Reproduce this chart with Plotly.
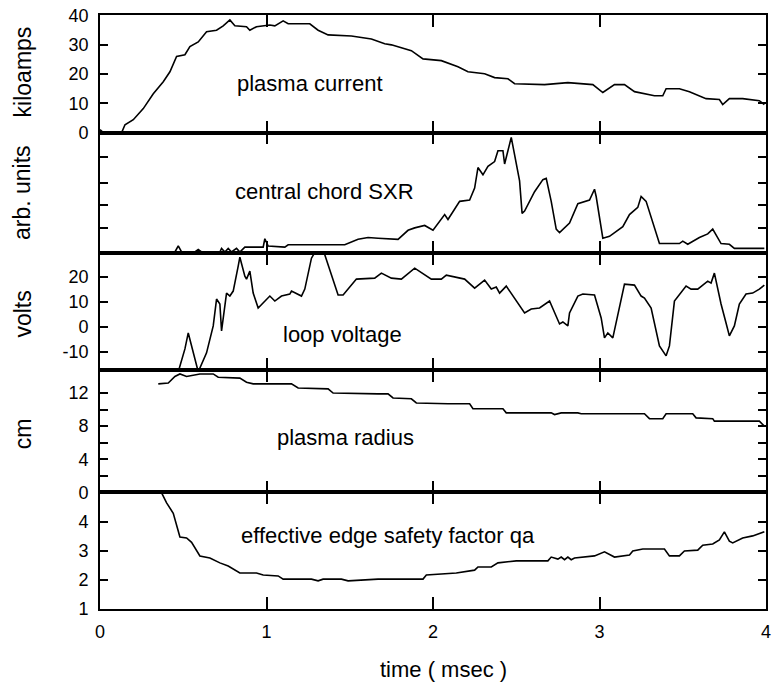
import plotly.graph_objects as go

# ---------------- data ----------------
t_cur = [0.0, 0.02, 0.13, 0.15, 0.20, 0.26, 0.32, 0.38, 0.42, 0.46, 0.51, 0.54, 0.59, 0.64, 0.70,
         0.74, 0.78, 0.81, 0.88, 0.90, 0.94, 1.02, 1.05, 1.10, 1.13, 1.26, 1.31, 1.37, 1.51, 1.63,
         1.71, 1.75, 1.87, 1.94, 2.05, 2.15, 2.21, 2.31, 2.37, 2.45, 2.49, 2.67, 2.81, 2.96, 3.02,
         3.09, 3.15, 3.21, 3.33, 3.38, 3.40, 3.48, 3.54, 3.64, 3.72, 3.74, 3.78, 3.86, 3.96, 3.99]
current = [1.0, 0, 0, 2.7, 4.4, 8.2, 13.3, 17.4, 20.8, 26, 26.6, 29.4, 31, 34.5, 35,
           36.5, 38.5, 36.5, 36.2, 35, 36.2, 36.8, 36.5, 38.2, 37.2, 37.2, 35, 33.4, 33, 32,
           30.4, 30, 28, 25.2, 24.6, 22.5, 20.8, 20.1, 18.8, 18.4, 16.7, 16.4, 17.1, 16.4, 13.7,
           16.4, 16.4, 14, 12.6, 12.6, 15, 15, 14, 11.6, 11.3, 9.6, 11.6, 11.6, 10.9, 9.6]

t_sxr = [0.45, 0.47, 0.49, 0.57, 0.59, 0.61, 0.72, 0.73, 0.75, 0.77, 0.79, 0.82, 0.84, 0.87, 0.98,
         0.99, 1.01, 1.11, 1.13, 1.47, 1.55, 1.61, 1.67, 1.79, 1.85, 1.89, 1.95, 2.00, 2.07, 2.09,
         2.16, 2.22, 2.25, 2.27, 2.30, 2.33, 2.37, 2.39, 2.42, 2.43, 2.47, 2.52, 2.535, 2.55, 2.61,
         2.66, 2.68, 2.71, 2.74, 2.76, 2.82, 2.87, 2.94, 2.97, 2.98, 3.02, 3.06, 3.14, 3.18, 3.23,
         3.25, 3.28, 3.36, 3.48, 3.50, 3.53, 3.60, 3.65, 3.68, 3.73, 3.78, 3.81, 3.99]
sxr = [0.1, 0.6, 0.1, 0.1, 0.3, 0.1, 0.1, 0.4, 0.1, 0.4, 0.1, 0.4, 0.1, 0.5, 0.5,
       1.2, 0.6, 0.5, 0.7, 0.7, 1.15, 1.3, 1.24, 1.15, 1.9, 2.1, 2.3, 1.9, 3.2, 2.8,
       4.3, 4.4, 5.4, 7.1, 6.5, 7.2, 7.6, 8.5, 8.5, 7.4, 9.6, 6.0, 3.3, 3.5, 5.1,
       6.1, 6.2, 4.3, 2.0, 1.7, 2.5, 4.1, 4.4, 5.3, 4.7, 1.24, 1.4, 2.2, 3.2, 3.8,
       4.7, 4.3, 0.8, 0.8, 1.0, 0.74, 1.3, 1.6, 2.0, 0.8, 0.74, 0.4, 0.4]

t_volt = [0.47, 0.51, 0.53, 0.55, 0.59, 0.64, 0.68, 0.70, 0.72, 0.73, 0.76, 0.78, 0.80, 0.83, 0.84,
          0.87, 0.88, 0.90, 0.92, 0.95, 0.98, 1.02, 1.05, 1.09, 1.14, 1.15, 1.21, 1.23, 1.27, 1.30,
          1.34, 1.39, 1.43, 1.46, 1.54, 1.65, 1.69, 1.75, 1.81, 1.89, 1.99, 2.05, 2.08, 2.19, 2.25,
          2.31, 2.35, 2.38, 2.40, 2.44, 2.55, 2.59, 2.64, 2.70, 2.76, 2.78, 2.81, 2.82, 2.87, 2.90,
          2.97, 3.01, 3.03, 3.05, 3.08, 3.15, 3.21, 3.25, 3.27, 3.31, 3.36, 3.40, 3.42, 3.45, 3.52,
          3.55, 3.59, 3.65, 3.67, 3.69, 3.73, 3.76, 3.78, 3.81, 3.84, 3.88, 3.92, 3.96, 3.99]
volts = [-18, -8.8, -2.4, -7.6, -18, -10.4, 0.4, 11.2, 9.2, -1.6, 13.6, 12.4, 14.4, 24.4, 28,
         20.4, 19.2, 22.4, 13.6, 7.6, 9.6, 12.4, 10.4, 12.4, 13.2, 14.4, 12.4, 15.2, 27.6, 31,
         31, 20.4, 12.8, 12.8, 19.2, 19.6, 21.6, 19.6, 19.2, 23.6, 19.2, 19.2, 20.8, 19.2, 15.6,
         18.8, 15.2, 16, 13.6, 16.4, 5.6, 7.2, 7.6, 10.4, 1.2, 2.0, 0.4, 5.6, 12.4, 13.2,
         12.8, 3.6, -4.4, -2.4, -4.4, 17.2, 16.8, 12.4, 11.6, 7.6, -7.6, -11.6, -7.6, 10.4, 16.4,
         15.2, 15.2, 18.4, 17.6, 21.6, 9.2, 1.6, -3.6, 0.4, 9.2, 13.2, 13.6, 15.2, 16.8]

t_rad = [0.35, 0.41, 0.45, 0.48, 0.52, 0.60, 0.68, 0.71, 0.84, 0.88, 0.92, 1.15, 1.19, 1.37, 1.40,
         1.55, 1.67, 1.73, 1.76, 1.87, 1.90, 2.09, 2.22, 2.24, 2.42, 2.44, 2.71, 2.73, 2.77, 2.87,
         2.89, 3.27, 3.30, 3.38, 3.40, 3.56, 3.58, 3.68, 3.69, 3.96, 3.99]
radius = [13.1, 13.2, 14.0, 14.3, 14.0, 14.3, 14.3, 13.9, 13.8, 13.3, 13.1, 13.1, 12.6, 12.5, 12.0,
          11.9, 11.9, 11.9, 11.4, 11.3, 10.8, 10.7, 10.7, 10.1, 10.1, 9.6, 9.6, 9.4, 9.6, 9.6,
          9.5, 9.5, 8.9, 8.9, 9.5, 9.5, 9.0, 8.9, 8.6, 8.6, 8.0]

t_qa = [0.37, 0.40, 0.44, 0.48, 0.52, 0.55, 0.60, 0.66, 0.72, 0.77, 0.84, 0.94, 0.98, 1.07, 1.10,
        1.27, 1.31, 1.34, 1.45, 1.49, 1.67, 1.94, 1.96, 2.14, 2.25, 2.27, 2.35, 2.39, 2.50, 2.69,
        2.71, 2.75, 2.77, 2.79, 2.81, 2.83, 2.85, 2.97, 3.03, 3.09, 3.18, 3.20, 3.26, 3.39, 3.42,
        3.48, 3.51, 3.59, 3.62, 3.68, 3.72, 3.75, 3.78, 3.80, 3.86, 3.92, 3.99]
qa = [5.0, 4.66, 4.3, 3.48, 3.45, 3.3, 2.83, 2.76, 2.59, 2.48, 2.24, 2.24, 2.17, 2.14, 2.03,
      2.03, 1.97, 2.03, 2.03, 1.97, 2.03, 2.03, 2.17, 2.24, 2.34, 2.45, 2.45, 2.59, 2.66, 2.66,
      2.79, 2.72, 2.79, 2.70, 2.79, 2.70, 2.76, 2.83, 2.97, 2.79, 2.86, 3.0, 3.07, 3.07, 2.83,
      2.83, 3.0, 3.03, 3.2, 3.24, 3.38, 3.66, 3.34, 3.28, 3.45, 3.52, 3.66]

x_ticks = [0, 1, 2, 3, 4]
x_ticklabels = ["0", "1", "2", "3", "4"]
panel_labels = ["plasma current", "central chord SXR", "loop voltage", "plasma radius",
                "effective edge safety factor qa"]
y_titles = ["kiloamps", "arb. units", "volts", "cm", ""]

# ---------------- layout geometry ----------------
W, H = 777, 685
L, R, T, B = 100, 6, 13, 76
pw, ph = W - L - R, H - T - B
bounds = [(13, 131), (131, 252), (252, 369), (369, 492), (492, 609)]


def py(y_px):
    return (H - B - y_px) / ph


def px(x_px):
    return (x_px - L) / pw


FONT = "Liberation Sans, Arial, Helvetica, sans-serif"

series = [(t_cur, current), (t_sxr, sxr), (t_volt, volts), (t_rad, radius), (t_qa, qa)]
yranges = [[0, 40.2], [0, 10], [-17.2, 29.6], [0, 14.8], [1, 5.02]]
ytickvals = [[0, 10, 20, 30, 40], [2.1, 4.0, 5.8, 8.0], [-10, 0, 10, 20],
             [0, 2, 4, 6, 8, 10, 12], [1, 2, 3, 4]]
yticktext = [["0", "10", "20", "30", "40"], ["", "", "", ""], ["-10", "0", "10", "20"],
             ["0", "", "4", "", "8", "", "12"], ["1", "2", "3", "4"]]

fig = go.Figure()
layout = dict(
    width=W, height=H,
    margin=dict(l=L, r=R, t=T, b=B),
    paper_bgcolor="white", plot_bgcolor="white",
    showlegend=False,
    font=dict(family=FONT, color="black", size=18),
)

for i, ((tx, vy), yr, tv, tt) in enumerate(zip(series, yranges, ytickvals, yticktext)):
    n = "" if i == 0 else str(i + 1)
    fig.add_trace(go.Scatter(x=tx, y=vy, mode="lines", xaxis="x" + n, yaxis="y" + n,
                             line=dict(color="black", width=1.6), hoverinfo="skip"))
    top, bot = bounds[i]
    layout["xaxis" + n] = dict(
        domain=[0, 1], anchor="y" + n, range=[0, 4], tickvals=x_ticks, ticktext=x_ticklabels,
        showticklabels=(i == 4), ticks="inside", ticklen=12, tickwidth=2, tickcolor="black",
        showline=True, linewidth=1.6, linecolor="black", mirror="ticks", showgrid=False,
        zeroline=False, ticklabelstandoff=6, tickfont=dict(size=18, family=FONT),
    )
    layout["yaxis" + n] = dict(
        domain=[py(bot), py(top)], anchor="x" + n, range=yr, tickvals=tv, ticktext=tt,
        ticks="inside", ticklen=8, tickwidth=2, tickcolor="black",
        showline=True, linewidth=1.6, linecolor="black", mirror="ticks", showgrid=False,
        zeroline=False, ticklabelstandoff=6, tickfont=dict(size=18, family=FONT),
    )

annotations = []
label_pos = [(312, 82), (326, 190), (344, 334), (347, 437), (390, 535)]
for text, (xp, yp) in zip(panel_labels, label_pos):
    annotations.append(dict(text=text, x=px(xp), y=py(yp), xref="paper", yref="paper",
                            xanchor="center", yanchor="middle", showarrow=False,
                            font=dict(size=22, family=FONT, color="black")))
title_pos = [(22, 70), (22, 191), (22, 313), (22, 433)]
for text, (xp, yp) in zip(y_titles, title_pos):
    annotations.append(dict(text=text, x=px(xp), y=py(yp), xref="paper", yref="paper",
                            xanchor="center", yanchor="middle", showarrow=False, textangle=-90,
                            font=dict(size=23, family=FONT, color="black")))
annotations.append(dict(text="time ( msec )", x=px(446), y=py(670), xref="paper", yref="paper",
                        xanchor="center", yanchor="middle", showarrow=False,
                        font=dict(size=22, family=FONT, color="black")))
layout["annotations"] = annotations

fig.update_layout(**layout)
fig.write_html("out.html")
